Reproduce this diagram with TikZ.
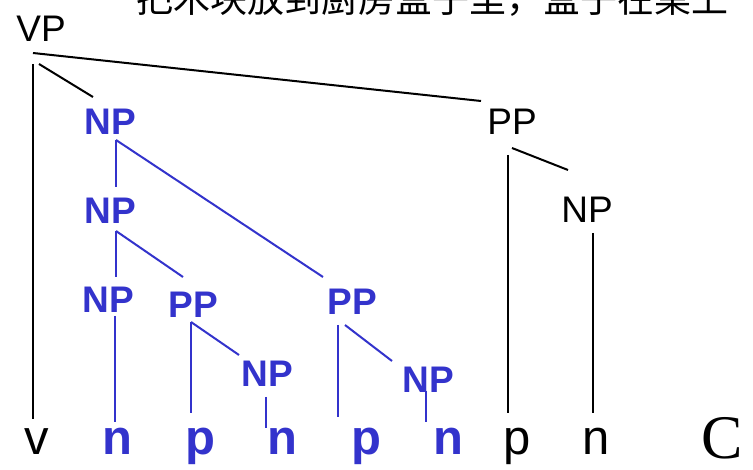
\documentclass[tikz,border=0pt]{standalone}
\usepackage{fontspec}
\setmainfont{Liberation Sans}
\newfontfamily\cjk{Noto Sans CJK SC}
\newfontfamily\serifC{Liberation Serif}
\definecolor{treeblue}{RGB}{51,51,204}
\begin{document}
\begin{tikzpicture}[x=1pt,y=-1pt,
  lab/.style={inner sep=0pt,anchor=base,font=\fontsize{37}{40}\selectfont},
  blab/.style={lab,text=treeblue,font=\fontsize{37}{40}\selectfont\bfseries},
  leaf/.style={inner sep=0pt,anchor=base,font=\fontsize{49}{52}\selectfont},
  bleaf/.style={leaf,text=treeblue,font=\fontsize{49}{52}\selectfont\bfseries},
  kline/.style={draw=black,line width=2pt},
  bline/.style={draw=treeblue,line width=2pt}]
\useasboundingbox (0,0) rectangle (753,470);
\fill[white] (0,0) rectangle (753,470);

% Chinese sentence (cut at top, as in the reference)
\node[inner sep=0pt,anchor=base west,font=\fontsize{37}{40}\selectfont\cjk] (sent) at (136,13) {把木块放到厨房盒子里，盒子在桌上};

% phrase labels
\node[lab] (VP) at (41,42) {VP};
\node[blab] (NPa) at (110,135) {NP};
\node[lab] (PPk) at (512,135) {PP};
\node[blab] (NPb) at (110,224) {NP};
\node[lab] (NPk) at (587,223) {NP};
\node[blab] (NPc) at (108,313) {NP};
\node[blab] (PPa) at (193,318) {PP};
\node[blab] (PPb) at (352,315) {PP};
\node[blab] (NPd) at (267,387) {NP};
\node[blab] (NPe) at (428,393) {NP};

% leaves
\node[leaf] (v) at (37,455) {v};
\node[bleaf] (n1) at (117,455) {n};
\node[bleaf] (p1) at (200,455) {p};
\node[bleaf] (n2) at (282,455) {n};
\node[bleaf] (p2) at (366,455) {p};
\node[bleaf] (n3) at (448,455) {n};
\node[leaf] (p3) at (517,455) {p};
\node[leaf] (n4) at (596,455) {n};
\node[inner sep=0pt,anchor=base,font=\fontsize{62}{64}\selectfont\serifC] (C) at (722,458) {C};

% connector end points
\coordinate (VPa) at (33,53);
\coordinate (VPb) at (33,64);
\coordinate (VPc) at (39,64);
\coordinate (PPkt) at (481,101);
\coordinate (vt) at (33,419);
\coordinate (NPat) at (93,97);
\coordinate (PPkb) at (508,155);
\coordinate (PPkc) at (512,148);
\coordinate (p3t) at (508,413);
\coordinate (NPkt) at (568,170);
\coordinate (NPkb) at (593,233);
\coordinate (n4t) at (593,413);

\coordinate (NPab) at (116,140);
\coordinate (NPbt) at (116,187);
\coordinate (PPbt) at (323,277);
\coordinate (NPbb) at (116,231);
\coordinate (NPct) at (116,277);
\coordinate (PPat) at (183,277);
\coordinate (NPcb) at (115,316);
\coordinate (n1t) at (115,422);
\coordinate (PPab) at (191,322);
\coordinate (p1t) at (191,413);
\coordinate (NPdt) at (239,355);
\coordinate (NPdb) at (266,397);
\coordinate (n2t) at (266,428);
\coordinate (PPbb) at (338,325);
\coordinate (PPbc) at (345,325);
\coordinate (p2t) at (338,417);
\coordinate (NPet) at (392,361);
\coordinate (NPeb) at (426,391);
\coordinate (n3t) at (426,422);

% black connectors
\draw[kline] (VPa) -- (PPkt);
\draw[kline] (VPb) -- (vt);
\draw[kline] (VPc) -- (NPat);
\draw[kline] (PPkb) -- (p3t);
\draw[kline] (PPkc) -- (NPkt);
\draw[kline] (NPkb) -- (n4t);

% blue connectors
\draw[bline] (NPab) -- (NPbt);
\draw[bline] (NPab) -- (PPbt);
\draw[bline] (NPbb) -- (NPct);
\draw[bline] (NPbb) -- (PPat);
\draw[bline] (NPcb) -- (n1t);
\draw[bline] (PPab) -- (p1t);
\draw[bline] (PPab) -- (NPdt);
\draw[bline] (NPdb) -- (n2t);
\draw[bline] (PPbb) -- (p2t);
\draw[bline] (PPbc) -- (NPet);
\draw[bline] (NPeb) -- (n3t);
\end{tikzpicture}
\end{document}
